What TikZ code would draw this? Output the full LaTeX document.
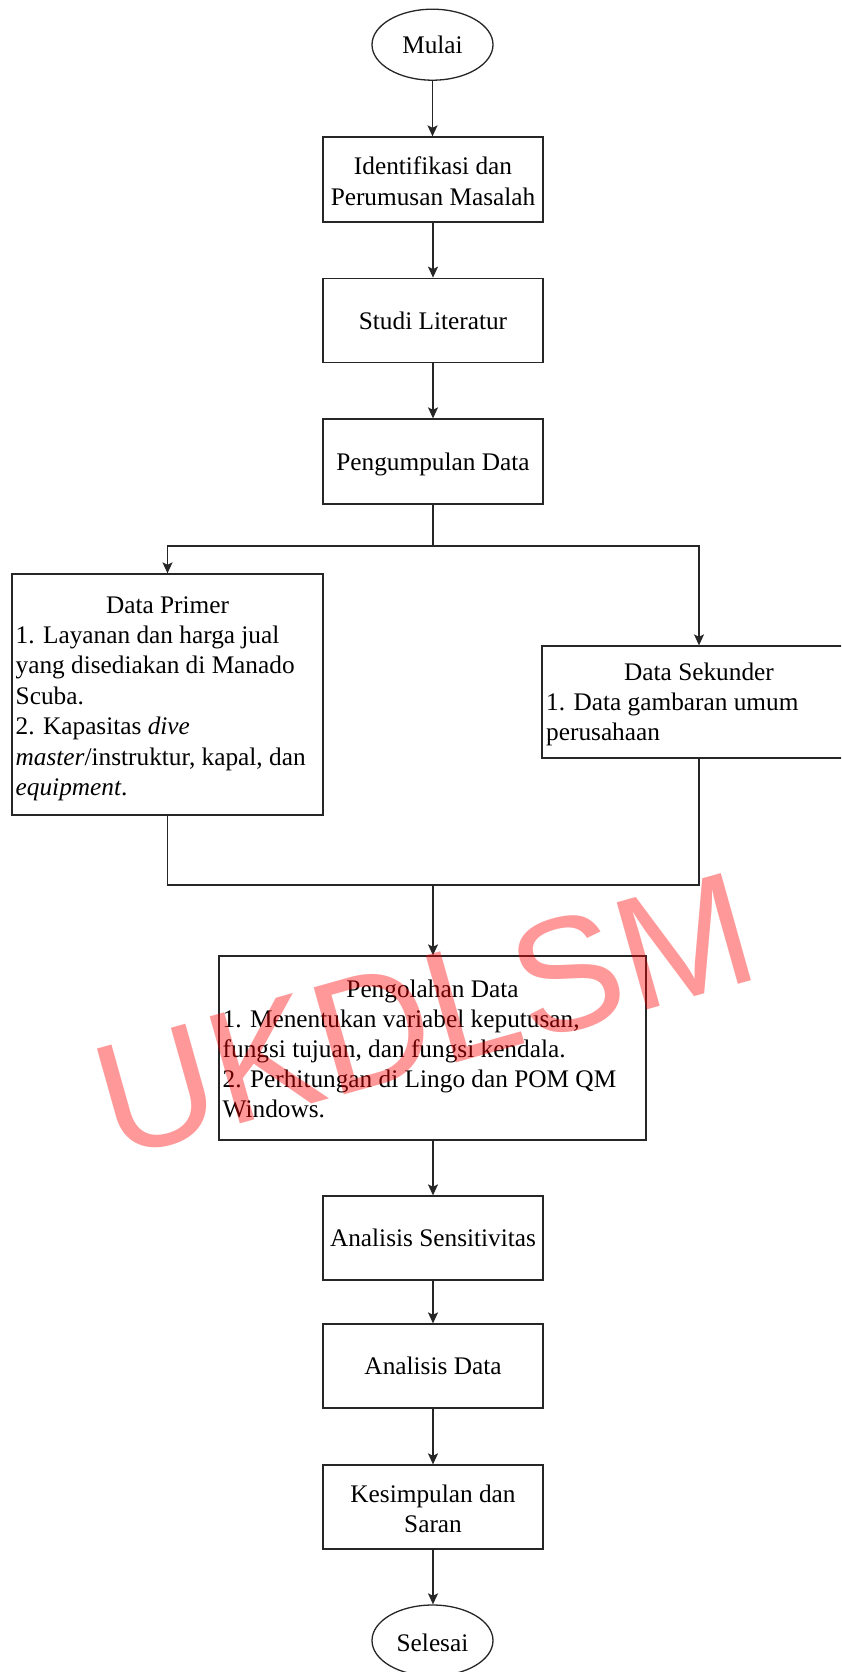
\documentclass[tikz,border=0pt]{standalone}
\usepackage{fontspec}
\setmainfont{Liberation Serif}
\newfontfamily\wmfont{Liberation Sans}
\usetikzlibrary{shapes.geometric,arrows.meta}
\begin{document}
\begin{tikzpicture}[x=1pt,y=-1pt,
  box/.style={draw=black!85,line width=1.3pt,rectangle,inner sep=0pt},
  term/.style={draw=black!85,line width=1.3pt,ellipse,inner sep=0pt,minimum width=121pt,minimum height=71pt},
  txt/.style={inner sep=0pt,font=\fontsize{25.3}{30.4}\selectfont},
  conn/.style={draw=black!85,line width=1.3pt},
  arr/.style={conn,-{Stealth[length=11pt,width=10pt,inset=2.5pt]}},
  wm/.style={inner sep=0pt,text=red,opacity=0.4,font=\wmfont\fontsize{161.7}{161.7}\selectfont}]
\useasboundingbox (0,0) rectangle (841,1672);
\clip (0,0) rectangle (841,1672);
\fill[white] (0,0) rectangle (841,1672);

% shapes
\node[term] (mulai) at (432.5,44.7) {};
\node[box,minimum width=220pt,minimum height=85pt] (ident) at (433,179.5) {};
\node[box,minimum width=220pt,minimum height=84pt] (studi) at (433,320.3) {};
\node[box,minimum width=220pt,minimum height=85pt] (kumpul) at (433,461.5) {};
\node[box,minimum width=311pt,minimum height=241pt] (primer) at (167.5,694.5) {};
\node[box,minimum width=314pt,minimum height=112pt] (sekunder) at (699,702) {};
\node[box,minimum width=427pt,minimum height=184pt] (olah) at (432.5,1048) {};
\node[box,minimum width=220pt,minimum height=84pt] (sens) at (433,1238) {};
\node[box,minimum width=220pt,minimum height=84pt] (anal) at (433,1366) {};
\node[box,minimum width=220pt,minimum height=84pt] (kesim) at (433,1507) {};
\node[term] (selesai) at (432.5,1640.5) {};

% texts
\node[txt,anchor=base] (tmulai) at (432.5,53.3) {Mulai};
\node[txt,anchor=base] (tident1) at (433,175) {Identifikasi dan};
\node[txt,anchor=base] (tident2) at (433,205) {Perumusan Masalah};
\node[txt,anchor=base] (tstudi) at (433,329) {Studi Literatur};
\node[txt,anchor=base] (tkumpul) at (433,470) {Pengumpulan Data};

\node[txt,anchor=base] (tprimer) at (167.5,613) {Data Primer};
\node[txt,anchor=base west] (tp1) at (15.5,643.4) {1. Layanan dan harga jual};
\node[txt,anchor=base west] (tp2) at (15.5,673.8) {yang disediakan di Manado};
\node[txt,anchor=base west] (tp3) at (15.5,704.2) {Scuba.};
\node[txt,anchor=base west] (tp4) at (15.5,734.6) {2. Kapasitas \textit{dive}};
\node[txt,anchor=base west] (tp5) at (15.5,765) {\textit{master}/instruktur, kapal, dan};
\node[txt,anchor=base west] (tp6) at (15.5,795.4) {\textit{equipment}.};

\node[txt,anchor=base] (tsekunder) at (699,680) {Data Sekunder};
\node[txt,anchor=base west] (ts1) at (546,710.4) {1. Data gambaran umum};
\node[txt,anchor=base west] (ts2) at (546,740.8) {perusahaan};

\node[txt,anchor=base] (tolah) at (432.5,997) {Pengolahan Data};
\node[txt,anchor=base west] (to1) at (222.5,1027) {1. Menentukan variabel keputusan,};
\node[txt,anchor=base west] (to2) at (222.5,1057) {fungsi tujuan, dan fungsi kendala.};
\node[txt,anchor=base west] (to3) at (222.5,1087) {2. Perhitungan di Lingo dan POM QM};
\node[txt,anchor=base west] (to4) at (222.5,1117) {Windows.};

\node[txt,anchor=base] (tsens) at (433,1246.6) {Analisis Sensitivitas};
\node[txt,anchor=base] (tanal) at (433,1374.6) {Analisis Data};
\node[txt,anchor=base] (tkesim1) at (433,1502) {Kesimpulan dan};
\node[txt,anchor=base] (tkesim2) at (433,1532) {Saran};
\node[txt,anchor=base] (tselesai) at (432.5,1651) {Selesai};

% connectors
\coordinate (split) at (433,546);
\coordinate (merge) at (433,885);
\draw[arr] (mulai.south) -- (mulai.south |- ident.north);
\draw[arr] (ident.south) -- (studi.north);
\draw[arr] (studi.south) -- (kumpul.north);
\draw[conn] (kumpul.south) -- (split);
\draw[arr] (split) -| (primer.north);
\draw[arr] (split) -| (sekunder.north);
\draw[conn] (primer.south) |- (merge);
\draw[conn] (sekunder.south) |- (merge);
\draw[arr] (merge) -- (merge |- olah.north);
\draw[arr] (olah.south -| merge) -- (sens.north);
\draw[arr] (sens.south) -- (anal.north);
\draw[arr] (anal.south) -- (kesim.north);
\draw[arr] (kesim.south) -- (kesim.south |- selesai.north);

% watermark
\node[wm,rotate=15.7] (wmark) at (424.4,1014.5) {UKDLSM};
\end{tikzpicture}
\end{document}
